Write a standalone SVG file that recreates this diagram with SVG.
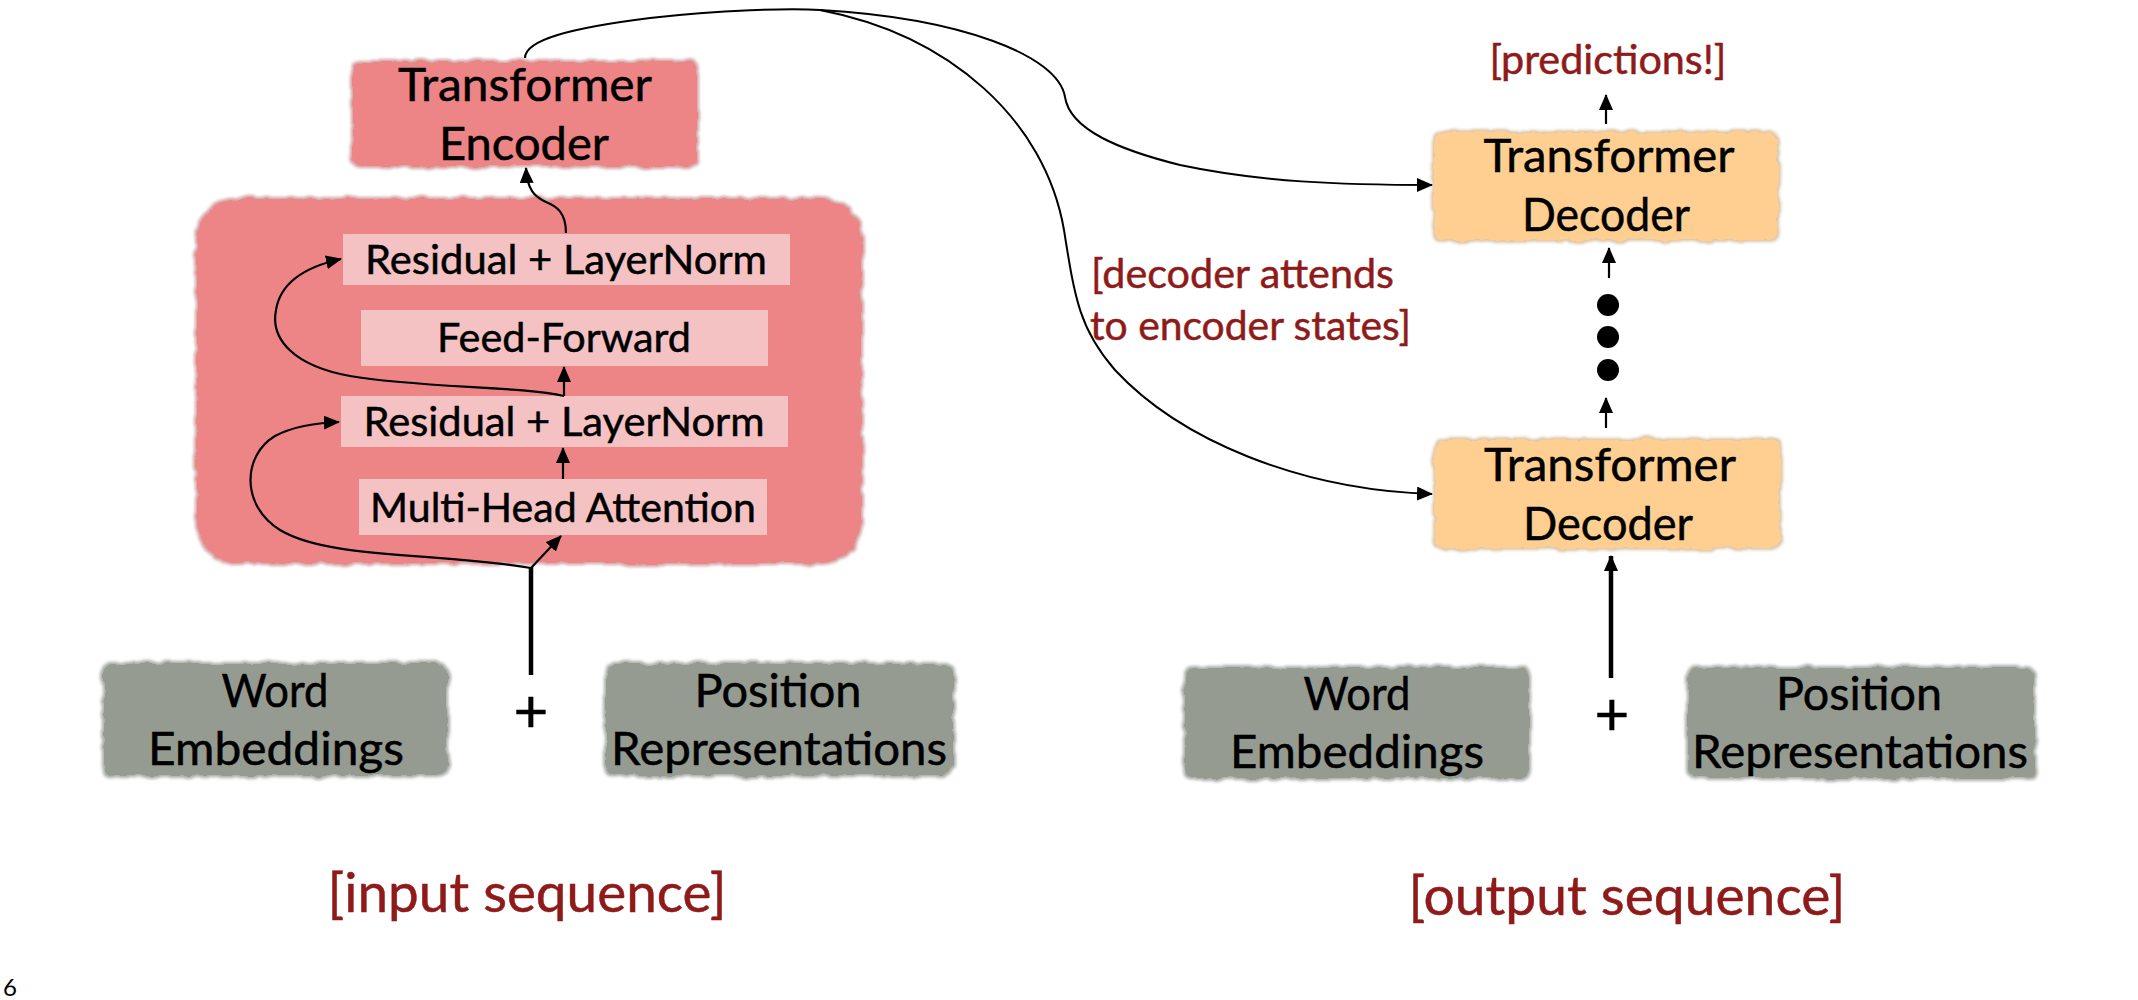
<svg xmlns="http://www.w3.org/2000/svg" width="2138" height="1000" viewBox="0 0 2138 1000">
<defs>
<style>
.t{font-family:Lato,"Open Sans","Liberation Sans",sans-serif;fill:#000;text-anchor:middle;stroke:#000;stroke-width:0.5}
.big{font-size:47px}
.mid{font-size:41px}
.red{fill:#8e1a1a;stroke:#8e1a1a}
.lab{font-size:41px}
.seq{font-size:54px}
.plus{font-size:60px}
.conn{fill:none;stroke:#000;stroke-width:2.2}
.thin{stroke-width:2}
.thick{stroke-width:4.5}
.enc{fill:#ed8587}
.inner{fill:#f5c2c3}
.dec{fill:#fecf91}
.emb{fill:#959b91}
</style>
<marker id="ah" viewBox="0 0 16 14" markerWidth="16" markerHeight="14" refX="15" refY="7" orient="auto" markerUnits="userSpaceOnUse">
<path d="M0,0 L16,7 L0,14 z" fill="#000"/>
</marker>
<filter id="rough" x="-4%" y="-6%" width="108%" height="112%">
<feTurbulence type="fractalNoise" baseFrequency="0.07" numOctaves="2" seed="7" result="n"/>
<feDisplacementMap in="SourceGraphic" in2="n" scale="7" xChannelSelector="R" yChannelSelector="G" result="d"/>
<feMorphology in="d" operator="dilate" radius="2" result="dl"/>
<feColorMatrix in="dl" type="matrix" values="0.55 0 0 0 0 0 0.55 0 0 0 0 0 0.55 0 0 0 0 0 0.6 0" result="dk"/>
<feGaussianBlur in="dk" stdDeviation="1.8" result="sh"/>
<feGaussianBlur in="d" stdDeviation="0.6" result="ds"/>
<feMerge><feMergeNode in="sh"/><feMergeNode in="ds"/></feMerge>
</filter>
</defs>
<rect width="2138" height="1000" fill="#fff"/>

<g id="encoder-block">
<rect class="enc" x="197" y="199" width="664" height="364" rx="42" filter="url(#rough)"/>
</g>
<g id="transformer-encoder">
<rect class="enc" x="353" y="62" width="344" height="104" rx="8" filter="url(#rough)"/>
<text class="t big" x="525" y="101" textLength="254" lengthAdjust="spacingAndGlyphs">Transformer</text>
<text class="t big" x="524" y="160" textLength="170" lengthAdjust="spacingAndGlyphs">Encoder</text>
</g>
<g id="res-ln-top">
<rect class="inner" x="343" y="234" width="447" height="51"/>
<text class="t mid" x="566" y="274" textLength="402" lengthAdjust="spacingAndGlyphs">Residual + LayerNorm</text>
</g>
<g id="feed-forward">
<rect class="inner" x="361" y="310" width="407" height="56"/>
<text class="t mid" x="564" y="352" textLength="254" lengthAdjust="spacingAndGlyphs">Feed-Forward</text>
</g>
<g id="res-ln-bottom">
<rect class="inner" x="341" y="396" width="447" height="51"/>
<text class="t mid" x="564" y="436" textLength="401" lengthAdjust="spacingAndGlyphs">Residual + LayerNorm</text>
</g>
<g id="multi-head-attention">
<rect class="inner" x="359" y="479" width="408" height="56"/>
<text class="t mid" x="563" y="522" textLength="386" lengthAdjust="spacingAndGlyphs">Multi-Head Attention</text>
</g>

<g id="word-emb-in">
<rect class="emb" x="104" y="664" width="343" height="111" rx="10" filter="url(#rough)"/>
<text class="t big" x="275" y="707" textLength="107" lengthAdjust="spacingAndGlyphs">Word</text>
<text class="t big" x="276" y="765" textLength="256" lengthAdjust="spacingAndGlyphs">Embeddings</text>
</g>
<g id="plus-in"><text class="t plus" x="531" y="732">+</text></g>
<g id="pos-rep-in">
<rect class="emb" x="606" y="664" width="347" height="111" rx="10" filter="url(#rough)"/>
<text class="t big" x="778" y="707" textLength="167" lengthAdjust="spacingAndGlyphs">Position</text>
<text class="t big" x="779" y="765" textLength="336" lengthAdjust="spacingAndGlyphs">Representations</text>
</g>
<g id="input-seq"><text class="t red seq" x="527" y="912" textLength="399" lengthAdjust="spacingAndGlyphs">[input sequence]</text></g>

<g id="predictions"><text class="t red lab" x="1608" y="74" textLength="237" lengthAdjust="spacingAndGlyphs">[predictions!]</text></g>
<g id="decoder-top">
<rect class="dec" x="1434" y="132" width="344" height="108" rx="10" filter="url(#rough)"/>
<text class="t big" x="1609" y="172" textLength="251" lengthAdjust="spacingAndGlyphs">Transformer</text>
<text class="t big" x="1606" y="231" textLength="168" lengthAdjust="spacingAndGlyphs">Decoder</text>
</g>
<g id="dots">
<circle cx="1608" cy="305" r="11"/>
<circle cx="1608" cy="337" r="11"/>
<circle cx="1608" cy="370" r="11"/>
</g>
<g id="decoder-bottom">
<rect class="dec" x="1435" y="440" width="345" height="108" rx="10" filter="url(#rough)"/>
<text class="t big" x="1610" y="481" textLength="252" lengthAdjust="spacingAndGlyphs">Transformer</text>
<text class="t big" x="1608" y="540" textLength="170" lengthAdjust="spacingAndGlyphs">Decoder</text>
</g>
<g id="attends-label">
<text class="t red lab" x="1091" y="288" style="text-anchor:start" textLength="303" lengthAdjust="spacingAndGlyphs">[decoder attends</text>
<text class="t red lab" x="1090" y="340" style="text-anchor:start" textLength="321" lengthAdjust="spacingAndGlyphs">to encoder states]</text>
</g>
<g id="word-emb-out">
<rect class="emb" x="1185" y="668" width="344" height="110" rx="10" filter="url(#rough)"/>
<text class="t big" x="1357" y="710" textLength="107" lengthAdjust="spacingAndGlyphs">Word</text>
<text class="t big" x="1357" y="768" textLength="254" lengthAdjust="spacingAndGlyphs">Embeddings</text>
</g>
<g id="plus-out"><text class="t plus" x="1612" y="735">+</text></g>
<g id="pos-rep-out">
<rect class="emb" x="1688" y="668" width="346" height="110" rx="10" filter="url(#rough)"/>
<text class="t big" x="1859" y="710" textLength="166" lengthAdjust="spacingAndGlyphs">Position</text>
<text class="t big" x="1860" y="768" textLength="336" lengthAdjust="spacingAndGlyphs">Representations</text>
</g>
<g id="output-seq"><text class="t red seq" x="1627" y="915" textLength="437" lengthAdjust="spacingAndGlyphs">[output sequence]</text></g>

<g id="page-number"><text class="t" x="3" y="996" style="text-anchor:start;font-size:24px;stroke-width:0">6</text></g>

<g id="connectors">
<path class="conn thick" d="M531,675 L531,567"/>
<path class="conn" d="M531,568 L561,536" marker-end="url(#ah)"/>
<path class="conn" d="M531,568 C440,552 330,560 280,530 C240,505 243,455 275,436 C292,427 312,423 339,422" marker-end="url(#ah)"/>
<path class="conn" d="M563,479 L563,448" marker-end="url(#ah)"/>
<path class="conn" d="M564,396 L564,367" marker-end="url(#ah)"/>
<path class="conn" d="M564,396 C520,386 420,388 350,376 C295,366 270,340 276,310 C280,285 300,268 341,259" marker-end="url(#ah)"/>
<path class="conn" d="M566,233 C566,212 556,206 546,202 C535,197 527,190 526,168" marker-end="url(#ah)"/>
<path class="conn thin" d="M525,58 C525,40 570,28 650,18 C720,10 790,8 820,10"/>
<path class="conn thin" d="M820,10 C960,18 1058,55 1065,97 C1070,130 1120,150 1180,165 C1260,182 1340,185 1432,185" marker-end="url(#ah)"/>
<path class="conn thin" d="M820,10 C950,35 1045,120 1064,230 C1075,300 1080,330 1115,370 C1180,440 1300,490 1432,494" marker-end="url(#ah)"/>
<path class="conn thick" d="M1611,678 L1611,556" marker-end="url(#ah)"/>
<path class="conn" d="M1606,428 L1606,398" marker-end="url(#ah)"/>
<path class="conn" d="M1609,278 L1609,248" marker-end="url(#ah)"/>
<path class="conn" d="M1606,124 L1606,95" marker-end="url(#ah)"/>
</g>
</svg>
